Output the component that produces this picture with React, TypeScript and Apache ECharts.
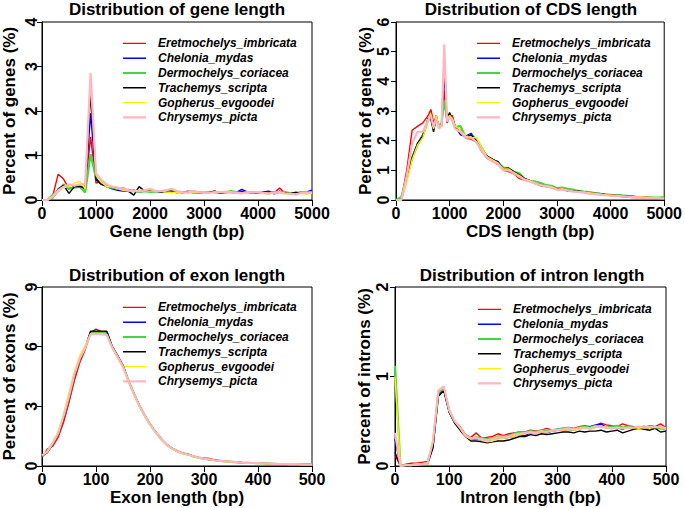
import React, { useEffect, useRef } from "react";
import * as echarts from "echarts";

const speciesNames = [
  "Eretmochelys_imbricata",
  "Chelonia_mydas",
  "Dermochelys_coriacea",
  "Trachemys_scripta",
  "Gopherus_evgoodei",
  "Chrysemys_picta",
];
const speciesColors = ["#FF0000", "#0000FF", "#44D444", "#000000", "#FFEE00", "#FFB6C1"];
const speciesWidths = [1.4, 1.4, 2.2, 1.4, 1.4, 2.2];

// ---------- Gene length ----------
const geneX = [
  0, 100, 200, 300, 400, 500, 600, 700, 800, 900,
  1000, 1100, 1200, 1300, 1400, 1500, 1600, 1700, 1800, 1900,
  2000, 2100, 2200, 2300, 2400, 2500, 2600, 2700, 2800, 2900,
  3000, 3100, 3200, 3300, 3400, 3500, 3600, 3700, 3800, 3900,
  4000, 4100, 4200, 4300, 4400, 4500, 4600, 4700, 4800, 4900,
  5000,
];
const geneRed = [
  0, 0, 0.1, 0.58, 0.47, 0.25, 0.3, 0.32, 0.25, 1.42,
  0.38, 0.42, 0.3, 0.28, 0.25, 0.22, 0.24, 0.2, 0.2, 0.22,
  0.2, 0.19, 0.2, 0.18, 0.2, 0.18, 0.17, 0.2, 0.18, 0.17,
  0.16, 0.18, 0.2, 0.15, 0.18, 0.16, 0.17, 0.2, 0.17, 0.18,
  0.15, 0.17, 0.18, 0.16, 0.27, 0.15, 0.16, 0.14, 0.18, 0.17,
  0.16,
];
const geneBlue = [
  0, 0, 0.05, 0.2, 0.3, 0.25, 0.3, 0.3, 0.25, 1.95,
  0.45, 0.35, 0.3, 0.25, 0.22, 0.2, 0.2, 0.22, 0.18, 0.2,
  0.2, 0.2, 0.18, 0.2, 0.18, 0.17, 0.18, 0.18, 0.17, 0.16,
  0.15, 0.18, 0.17, 0.17, 0.16, 0.18, 0.17, 0.24, 0.18, 0.16,
  0.15, 0.18, 0.2, 0.14, 0.2, 0.16, 0.15, 0.17, 0.16, 0.18,
  0.22,
];
const geneGreen = [
  0, 0, 0.12, 0.2, 0.35, 0.25, 0.28, 0.3, 0.17, 1.03,
  0.5, 0.4, 0.3, 0.28, 0.25, 0.27, 0.2, 0.2, 0.18, 0.2,
  0.18, 0.19, 0.2, 0.18, 0.2, 0.17, 0.18, 0.17, 0.2, 0.16,
  0.17, 0.18, 0.18, 0.16, 0.17, 0.2, 0.18, 0.17, 0.16, 0.18,
  0.17, 0.16, 0.15, 0.17, 0.16, 0.18, 0.15, 0.16, 0.17, 0.15,
  0.18,
];
const geneBlack = [
  0, 0, 0.05, 0.25, 0.33, 0.15, 0.3, 0.3, 0.28, 2.4,
  0.48, 0.35, 0.32, 0.3, 0.25, 0.22, 0.2, 0.11, 0.3, 0.2,
  0.22, 0.2, 0.18, 0.2, 0.2, 0.18, 0.17, 0.18, 0.17, 0.18,
  0.16, 0.17, 0.2, 0.15, 0.18, 0.17, 0.16, 0.18, 0.17, 0.15,
  0.16, 0.17, 0.16, 0.18, 0.15, 0.16, 0.15, 0.17, 0.15, 0.16,
  0.15,
];
const geneYellow = [
  0, 0, 0.05, 0.2, 0.28, 0.3, 0.38, 0.42, 0.25, 2.8,
  0.55, 0.4, 0.3, 0.3, 0.25, 0.22, 0.2, 0.2, 0.22, 0.2,
  0.2, 0.2, 0.2, 0.18, 0.17, 0.18, 0.17, 0.16, 0.17, 0.18,
  0.15, 0.16, 0.17, 0.18, 0.16, 0.15, 0.17, 0.16, 0.15, 0.17,
  0.16, 0.15, 0.14, 0.16, 0.15, 0.14, 0.15, 0.13, 0.15, 0.14,
  0.15,
];
const genePink = [
  0, 0, 0.08, 0.22, 0.3, 0.35, 0.32, 0.35, 0.35, 2.85,
  0.6, 0.45, 0.35, 0.3, 0.28, 0.25, 0.22, 0.2, 0.2, 0.22,
  0.25, 0.2, 0.2, 0.22, 0.25, 0.2, 0.18, 0.17, 0.2, 0.18,
  0.17, 0.16, 0.18, 0.17, 0.19, 0.18, 0.16, 0.15, 0.18, 0.17,
  0.18, 0.16, 0.15, 0.17, 0.18, 0.15, 0.14, 0.12, 0.16, 0.17,
  0.16,
];

// ---------- CDS length ----------
const cdsX = [
  0, 100, 200, 300, 400, 500, 600,
  650, 700, 750, 800, 850, 900, 950, 1000, 1050, 1100,
  1200, 1300, 1400, 1500, 1600, 1700, 1800, 1900, 2000, 2100,
  2200, 2300, 2400, 2500, 2600, 2700, 2800, 2900, 3000, 3100,
  3200, 3300, 3400, 3500, 3600, 3700, 3800, 3900, 4000, 4100,
  4200, 4300, 4400, 4500, 4600, 4700, 4800, 4900, 5000,
];
const cdsRed = [
  0, 0.05, 1.0, 2.35, 2.48, 2.6, 2.85,
  3.05, 2.62, 2.8, 2.45, 2.5, 3.7, 2.6, 2.8, 2.85, 2.5,
  2.3, 2.08, 2.05, 1.95, 1.63, 1.4, 1.3, 1.2, 1.0, 0.96,
  0.88, 0.72, 0.67, 0.62, 0.55, 0.48, 0.45, 0.42, 0.35, 0.36,
  0.3, 0.32, 0.27, 0.28, 0.22, 0.2, 0.18, 0.17, 0.15, 0.13,
  0.12, 0.1, 0.08, 0.09, 0.07, 0.07, 0.06, 0.05, 0.05,
];
const cdsBlue = [
  0, 0, 0.7, 1.45, 1.9, 2.2, 2.75,
  2.8, 2.35, 2.8, 2.45, 2.55, 4.25, 2.65, 2.85, 2.75, 2.5,
  2.2, 2.15, 2.25, 2.0, 1.7, 1.45, 1.35, 1.3, 1.05, 1.05,
  0.95, 0.82, 0.72, 0.65, 0.6, 0.55, 0.5, 0.45, 0.38, 0.4,
  0.35, 0.32, 0.3, 0.28, 0.25, 0.22, 0.2, 0.18, 0.17, 0.15,
  0.14, 0.12, 0.11, 0.1, 0.09, 0.08, 0.08, 0.07, 0.06,
];
const cdsGreen = [
  0, 0.1, 0.75, 1.4, 1.85, 2.15, 2.7,
  2.75, 2.4, 2.7, 2.5, 2.6, 3.35, 2.75, 2.9, 2.7, 2.45,
  2.5, 2.1, 2.2, 2.05, 1.75, 1.45, 1.35, 1.25, 1.1, 1.05,
  0.95, 0.9, 0.7, 0.65, 0.62, 0.57, 0.5, 0.48, 0.4, 0.42,
  0.38, 0.35, 0.3, 0.28, 0.27, 0.23, 0.2, 0.19, 0.17, 0.16,
  0.15, 0.14, 0.12, 0.1, 0.1, 0.09, 0.08, 0.08, 0.1,
];
const cdsBlack = [
  0, 0, 0.7, 1.4, 1.9, 2.15, 2.75,
  2.75, 2.3, 2.85, 2.45, 2.55, 4.75, 2.7, 2.95, 2.7, 2.45,
  2.35, 2.1, 2.2, 2.0, 1.7, 1.48, 1.38, 1.28, 1.05, 1.08,
  0.95, 0.85, 0.72, 0.65, 0.56, 0.52, 0.45, 0.44, 0.36, 0.38,
  0.33, 0.3, 0.3, 0.27, 0.25, 0.22, 0.22, 0.19, 0.17, 0.15,
  0.15, 0.13, 0.12, 0.11, 0.1, 0.09, 0.08, 0.08, 0.07,
];
const cdsYellow = [
  0, 0, 0.6, 1.35, 1.85, 2.1, 2.7,
  2.9, 2.4, 2.85, 2.5, 2.5, 5.05, 2.75, 2.85, 2.75, 2.5,
  2.35, 2.15, 2.1, 2.1, 1.75, 1.45, 1.35, 1.25, 1.05, 1.05,
  0.92, 0.82, 0.7, 0.65, 0.58, 0.5, 0.48, 0.45, 0.35, 0.38,
  0.33, 0.3, 0.28, 0.27, 0.25, 0.22, 0.2, 0.18, 0.16, 0.15,
  0.14, 0.12, 0.11, 0.1, 0.1, 0.09, 0.08, 0.07, 0.06,
];
const cdsPink = [
  0, 0, 0.8, 1.9, 2.3, 2.3, 2.7,
  2.85, 2.45, 2.75, 2.4, 2.5, 5.25, 2.65, 2.8, 2.7, 2.4,
  2.3, 2.1, 2.1, 1.95, 1.65, 1.42, 1.3, 1.22, 1.0, 1.0,
  0.9, 0.78, 0.68, 0.62, 0.55, 0.5, 0.45, 0.42, 0.35, 0.35,
  0.32, 0.28, 0.27, 0.25, 0.22, 0.2, 0.18, 0.16, 0.15, 0.13,
  0.12, 0.11, 0.1, 0.09, 0.08, 0.07, 0.07, 0.06, 0.05,
];

// ---------- Exon / intron length (10 bp bins) ----------
const shortX = [
  0, 10, 20, 30, 40, 50, 60, 70, 80, 90,
  100, 110, 120, 130, 140, 150, 160, 170, 180, 190,
  200, 210, 220, 230, 240, 250, 260, 270, 280, 290,
  300, 310, 320, 330, 340, 350, 360, 370, 380, 390,
  400, 410, 420, 430, 440, 450, 460, 470, 480, 490,
  500,
];
const exonRed = [
  0.45, 0.85, 1.0, 1.45, 2.2, 3.2, 4.3, 5.2, 5.85, 6.7,
  6.88, 6.75, 6.7, 6.0, 5.5, 5.05, 4.3, 3.65, 3.05, 2.55,
  2.1, 1.72, 1.38, 1.1, 0.9, 0.76, 0.66, 0.58, 0.5, 0.43,
  0.4, 0.38, 0.3, 0.27, 0.24, 0.22, 0.2, 0.18, 0.17, 0.16,
  0.15, 0.14, 0.13, 0.12, 0.11, 0.11, 0.1, 0.1, 0.09, 0.09,
  0.08,
];
const exonBlue = [
  0.5, 0.7, 1.1, 1.6, 2.4, 3.4, 4.5, 5.35, 5.95, 6.75,
  6.75, 6.75, 6.75, 6.0, 5.55, 5.05, 4.3, 3.65, 3.05, 2.55,
  2.1, 1.72, 1.38, 1.1, 0.9, 0.75, 0.65, 0.58, 0.5, 0.42,
  0.37, 0.33, 0.29, 0.26, 0.23, 0.21, 0.19, 0.17, 0.16, 0.15,
  0.14, 0.13, 0.12, 0.11, 0.1, 0.1, 0.09, 0.09, 0.08, 0.08,
  0.07,
];
const exonGreen = [
  0.5, 0.72, 1.12, 1.62, 2.45, 3.45, 4.55, 5.4, 5.95, 6.7,
  6.72, 6.72, 6.7, 6.0, 5.5, 5.02, 4.3, 3.65, 3.05, 2.55,
  2.1, 1.72, 1.38, 1.1, 0.9, 0.75, 0.64, 0.6, 0.48, 0.42,
  0.37, 0.33, 0.29, 0.26, 0.23, 0.21, 0.19, 0.17, 0.16, 0.15,
  0.14, 0.13, 0.12, 0.11, 0.1, 0.1, 0.09, 0.09, 0.08, 0.08,
  0.07,
];
const exonBlack = [
  0.5, 0.68, 1.1, 1.6, 2.4, 3.4, 4.5, 5.35, 5.95, 6.78,
  6.78, 6.78, 6.78, 6.0, 5.55, 5.05, 4.3, 3.65, 3.05, 2.55,
  2.1, 1.72, 1.38, 1.1, 0.9, 0.75, 0.65, 0.58, 0.5, 0.42,
  0.37, 0.33, 0.29, 0.26, 0.23, 0.21, 0.19, 0.17, 0.16, 0.15,
  0.14, 0.13, 0.12, 0.11, 0.1, 0.1, 0.09, 0.09, 0.08, 0.08,
  0.07,
];
const exonYellow = [
  0.55, 0.75, 1.2, 1.75, 2.6, 3.7, 4.75, 5.55, 6.05, 6.65,
  6.65, 6.65, 6.6, 5.95, 5.45, 4.95, 4.25, 3.6, 3.0, 2.5,
  2.05, 1.68, 1.35, 1.07, 0.88, 0.73, 0.63, 0.56, 0.48, 0.4,
  0.35, 0.32, 0.28, 0.25, 0.22, 0.2, 0.18, 0.17, 0.15, 0.14,
  0.13, 0.12, 0.11, 0.11, 0.1, 0.09, 0.09, 0.08, 0.08, 0.07,
  0.07,
];
const exonPink = [
  0.52, 0.72, 1.15, 1.65, 2.5, 3.5, 4.6, 5.4, 5.95, 6.62,
  6.65, 6.62, 6.6, 5.95, 5.5, 5.0, 4.3, 3.65, 3.05, 2.55,
  2.1, 1.72, 1.38, 1.1, 0.9, 0.75, 0.65, 0.58, 0.5, 0.42,
  0.37, 0.33, 0.29, 0.26, 0.23, 0.21, 0.19, 0.17, 0.16, 0.15,
  0.14, 0.13, 0.12, 0.11, 0.1, 0.1, 0.09, 0.09, 0.08, 0.08,
  0.07,
];

const intronRed = [
  0.12, 0, 0.02, 0.03, 0.03, 0.04, 0.05, 0.25, 0.82, 0.86,
  0.62, 0.5, 0.44, 0.35, 0.32, 0.37, 0.31, 0.32, 0.33, 0.36,
  0.34, 0.36, 0.37, 0.38, 0.38, 0.4, 0.39, 0.4, 0.42, 0.4,
  0.41, 0.42, 0.43, 0.42, 0.44, 0.45, 0.44, 0.45, 0.48, 0.46,
  0.45, 0.44, 0.47, 0.45, 0.44, 0.44, 0.43, 0.45, 0.44, 0.47,
  0.43,
];
const intronBlue = [
  0.3, 0, 0.01, 0.01, 0.02, 0.02, 0.03, 0.22, 0.8, 0.86,
  0.6, 0.48, 0.42, 0.34, 0.3, 0.3, 0.29, 0.28, 0.3, 0.31,
  0.31, 0.32, 0.33, 0.35, 0.34, 0.37, 0.36, 0.38, 0.37, 0.39,
  0.4, 0.4, 0.41, 0.4, 0.42, 0.43, 0.44, 0.46, 0.47, 0.43,
  0.42, 0.43, 0.41, 0.44, 0.43, 0.42, 0.43, 0.42, 0.43, 0.44,
  0.42,
];
const intronGreen = [
  1.12, 0, 0.01, 0.01, 0.02, 0.02, 0.03, 0.24, 0.82, 0.87,
  0.62, 0.49, 0.42, 0.35, 0.31, 0.32, 0.31, 0.3, 0.31, 0.33,
  0.33, 0.34, 0.36, 0.38, 0.37, 0.39, 0.38, 0.4, 0.39, 0.4,
  0.41, 0.42, 0.42, 0.41, 0.43, 0.44, 0.43, 0.45, 0.44, 0.43,
  0.44, 0.45, 0.43, 0.44, 0.42, 0.43, 0.44, 0.43, 0.43, 0.42,
  0.41,
];
const intronBlack = [
  0.15, 0, 0.01, 0.01, 0.02, 0.02, 0.02, 0.2, 0.78, 0.84,
  0.6, 0.48, 0.4, 0.33, 0.28, 0.28, 0.27, 0.26, 0.27, 0.28,
  0.28, 0.29, 0.31, 0.33, 0.33, 0.35, 0.34, 0.36, 0.35, 0.36,
  0.37, 0.38, 0.38, 0.37, 0.39, 0.38, 0.39, 0.39, 0.4, 0.38,
  0.39, 0.4, 0.37, 0.39, 0.41, 0.42, 0.41, 0.4, 0.42, 0.38,
  0.39,
];
const intronYellow = [
  1.0, 0, 0.01, 0.01, 0.01, 0.02, 0.02, 0.3, 0.85, 0.88,
  0.63, 0.5, 0.42, 0.33, 0.3, 0.31, 0.29, 0.27, 0.28, 0.3,
  0.31, 0.32, 0.33, 0.35, 0.36, 0.37, 0.36, 0.38, 0.38, 0.39,
  0.4, 0.4, 0.41, 0.4, 0.41, 0.42, 0.41, 0.43, 0.44, 0.43,
  0.42, 0.43, 0.42, 0.42, 0.43, 0.42, 0.43, 0.42, 0.44, 0.43,
  0.41,
];
const intronPink = [
  0.37, 0, 0.01, 0.01, 0.02, 0.02, 0.03, 0.27, 0.84, 0.89,
  0.62, 0.5, 0.43, 0.34, 0.31, 0.31, 0.3, 0.29, 0.3, 0.32,
  0.32, 0.33, 0.35, 0.36, 0.37, 0.38, 0.37, 0.39, 0.38, 0.4,
  0.4, 0.41, 0.42, 0.41, 0.42, 0.43, 0.42, 0.44, 0.44, 0.43,
  0.42, 0.43, 0.42, 0.43, 0.43, 0.44, 0.43, 0.44, 0.43, 0.44,
  0.42,
];

const panelTitles = [
  "Distribution of gene length",
  "Distribution of CDS length",
  "Distribution of exon length",
  "Distribution of intron length",
];
const xAxisNames = ["Gene length (bp)", "CDS length (bp)", "Exon length (bp)", "Intron length (bp)"];
const yAxisNames = ["Percent of genes (%)", "Percent of genes (%)", "Percent of exons (%)", "Percent of introns (%)"];
const xMaxes = [5000, 5000, 500, 500];
const xIntervals = [1000, 1000, 100, 100];
const yMaxes = [4, 6, 9, 2];
const yIntervals = [1, 1, 3, 1];

const panelX = [geneX, cdsX, shortX, shortX];
const panelSeries = [
  [geneRed, geneBlue, geneGreen, geneBlack, geneYellow, genePink],
  [cdsRed, cdsBlue, cdsGreen, cdsBlack, cdsYellow, cdsPink],
  [exonRed, exonBlue, exonGreen, exonBlack, exonYellow, exonPink],
  [intronRed, intronBlue, intronGreen, intronBlack, intronYellow, intronPink],
];

const FONT = "'Liberation Sans', Arial, Helvetica, sans-serif";

// legend icons: a horizontal band inside a 23x4 box (degenerate sub-paths fix the box)
const THIN_ICON = "path://M0,0L23,0L0,0ZM0,1.3L23,1.3L23,2.7L0,2.7ZM0,4L23,4L0,4Z";
const THICK_ICON = "path://M0,0L23,0L0,0ZM0,0.9L23,0.9L23,3.1L0,3.1ZM0,4L23,4L0,4Z";

const tickRich = {
  t: { fontSize: 16, fontWeight: "bold", color: "#000", fontFamily: FONT },
};

export default function App() {
  const ref = useRef<HTMLDivElement>(null);
  useEffect(() => {
    if (!ref.current) return;
    const chart = echarts.init(ref.current, undefined, { renderer: "svg" });

    const grids = [
      { left: 41, top: 22, width: 271, height: 178 },
      { left: 396, top: 22, width: 270, height: 178 },
      { left: 41, top: 287, width: 271, height: 179 },
      { left: 395, top: 287, width: 271, height: 179 },
    ];
    const titlePos = [
      [177, 9.5],
      [531, 9.5],
      [177, 275],
      [532, 275],
    ];
    const legendPos = [
      [123, 36],
      [477, 36],
      [123, 300],
      [478, 302],
    ];
    const yNameGaps = [24, 22, 24, 21];
    const yLabelMargins = [3, 5, 3, 5];

    const series: any[] = [];
    panelSeries.forEach((group, gi) => {
      group.forEach((vals, si) => {
        series.push({
          type: "line",
          name: speciesNames[si],
          xAxisIndex: gi,
          yAxisIndex: gi,
          data: vals.map((v, k) => [panelX[gi][k], v]),
          symbol: "none",
          showSymbol: false,
          lineStyle: { color: speciesColors[si], width: speciesWidths[si] },
          itemStyle: { color: speciesColors[si] },
          emphasis: { disabled: true },
          z: 2 + si,
        });
      });
    });

    chart.setOption({
      animation: false,
      backgroundColor: "#ffffff",
      textStyle: { fontFamily: FONT },
      grid: grids.map((g) => ({
        ...g,
        show: true,
        borderColor: "#000",
        borderWidth: 1,
        containLabel: false,
      })),
      xAxis: grids.map((_, i) => ({
        type: "value",
        gridIndex: i,
        min: 0,
        max: xMaxes[i],
        interval: xIntervals[i],
        name: xAxisNames[i],
        nameLocation: "middle",
        nameGap: 23,
        nameTextStyle: { fontSize: 17, fontWeight: "bold", color: "#000", fontFamily: FONT },
        axisLine: { show: true, onZero: false, lineStyle: { color: "#000", width: 1 } },
        axisTick: { show: true, length: 6, lineStyle: { color: "#000" } },
        axisLabel: {
          show: true,
          margin: 5,
          fontSize: 16,
          fontWeight: "bold",
          color: "#000",
          fontFamily: FONT,
          showMinLabel: true,
          showMaxLabel: true,
          hideOverlap: false,
          formatter: (v: number) => `{t|${v}}`,
          rich: tickRich,
        },
        splitLine: { show: false },
      })),
      yAxis: grids.map((_, i) => ({
        type: "value",
        gridIndex: i,
        min: 0,
        max: yMaxes[i],
        interval: yIntervals[i],
        name: yAxisNames[i],
        nameLocation: "middle",
        nameGap: yNameGaps[i],
        nameRotate: 90,
        nameTextStyle: { fontSize: 17, fontWeight: "bold", color: "#000", fontFamily: FONT },
        axisLine: { show: true, onZero: false, lineStyle: { color: "#000", width: 1 } },
        axisTick: { show: true, length: 5, lineStyle: { color: "#000" } },
        axisLabel: {
          show: true,
          rotate: 90,
          margin: yLabelMargins[i],
          fontSize: 16,
          fontWeight: "bold",
          color: "#000",
          fontFamily: FONT,
          showMinLabel: true,
          showMaxLabel: true,
          hideOverlap: false,
          formatter: (v: number) => `{t|${v}}`,
          rich: tickRich,
        },
        splitLine: { show: false },
      })),
      legend: legendPos.map(([l, t]) => ({
        orient: "vertical",
        left: l,
        top: t,
        padding: 0,
        itemGap: 0,
        itemWidth: 23,
        itemHeight: 4,
        selectedMode: false,
        itemStyle: { borderWidth: 0 },
        data: speciesNames.map((n, si) => ({
          name: n,
          icon: speciesWidths[si] > 2 ? THICK_ICON : THIN_ICON,
        })),
        textStyle: {
          fontSize: 12,
          fontStyle: "italic",
          fontWeight: "bold",
          color: "#000",
          fontFamily: FONT,
          lineHeight: 14.8,
          padding: [0, 0, 0, 7],
        },
      })),
      graphic: panelTitles.map((t, i) => ({
        type: "text",
        x: titlePos[i][0],
        y: titlePos[i][1],
        style: {
          text: t,
          align: "center",
          verticalAlign: "middle",
          font: `bold 17px ${FONT}`,
          fill: "#000",
        },
      })),
      series,
    });

    return () => chart.dispose();
  }, []);

  return (
    <div
      ref={ref}
      style={{ position: "fixed", left: 0, top: 0, width: 685, height: 508, background: "#fff" }}
    />
  );
}
